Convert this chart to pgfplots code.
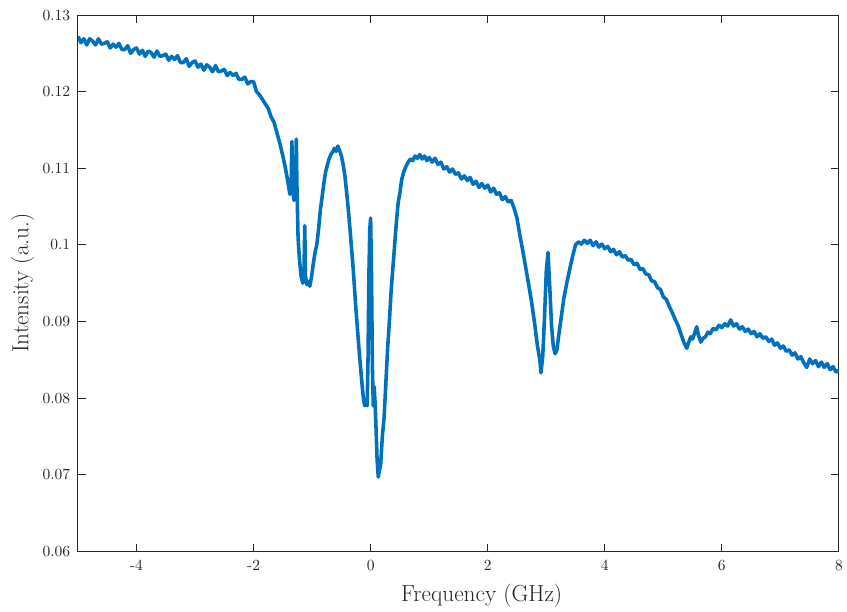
\documentclass[border=0pt]{standalone}
\usepackage{pgfplots}
\pgfplotsset{compat=1.18}
\definecolor{mblue}{HTML}{0072BD}
\definecolor{axgray}{HTML}{262626}

\pgfplotstableread{
f I
-5.00 0.1272
-4.95 0.1264
-4.90 0.1269
-4.85 0.1261
-4.80 0.1269
-4.75 0.1266
-4.70 0.1261
-4.65 0.1269
-4.60 0.1262
-4.55 0.1263
-4.50 0.1265
-4.45 0.1257
-4.40 0.1262
-4.35 0.1258
-4.30 0.1263
-4.25 0.1255
-4.20 0.1255
-4.15 0.1260
-4.10 0.1250
-4.05 0.1255
-4.00 0.1257
-3.95 0.1249
-3.90 0.1254
-3.85 0.1246
-3.80 0.1253
-3.75 0.1251
-3.70 0.1245
-3.65 0.1253
-3.60 0.1246
-3.55 0.1247
-3.50 0.1249
-3.45 0.1241
-3.40 0.1246
-3.35 0.1242
-3.30 0.1247
-3.25 0.1238
-3.20 0.1238
-3.15 0.1243
-3.10 0.1233
-3.05 0.1238
-3.00 0.1240
-2.95 0.1232
-2.90 0.1236
-2.85 0.1228
-2.80 0.1235
-2.75 0.1232
-2.70 0.1226
-2.65 0.1234
-2.60 0.1226
-2.55 0.1227
-2.50 0.1229
-2.45 0.1221
-2.40 0.1225
-2.35 0.1221
-2.30 0.1224
-2.25 0.1216
-2.20 0.1216
-2.15 0.1219
-2.10 0.1210
-2.05 0.1213
-2.00 0.1213
-1.95 0.1200
-1.90 0.1196
-1.85 0.1190
-1.80 0.1184
-1.75 0.1178
-1.70 0.1167
-1.65 0.1160
-1.60 0.1146
-1.55 0.1132
-1.50 0.1116
-1.46 0.1102
-1.42 0.1085
-1.38 0.1066
-1.36 0.1070
-1.345 0.1135
-1.335 0.1075
-1.31 0.1058
-1.285 0.1070
-1.27 0.1138
-1.26 0.1080
-1.24 0.1010
-1.22 0.0985
-1.19 0.0960
-1.16 0.0950
-1.14 0.0960
-1.125 0.1025
-1.115 0.0960
-1.09 0.0948
-1.06 0.0952
-1.04 0.0946
-1.01 0.0958
-0.98 0.0975
-0.95 0.0990
-0.92 0.1000
-0.89 0.1020
-0.86 0.1045
-0.83 0.1062
-0.80 0.1080
-0.77 0.1095
-0.74 0.1104
-0.71 0.1112
-0.68 0.1118
-0.65 0.1121
-0.62 0.1126
-0.59 0.1122
-0.56 0.1129
-0.53 0.1123
-0.50 0.1116
-0.47 0.1105
-0.44 0.1090
-0.41 0.1068
-0.38 0.1045
-0.35 0.1018
-0.32 0.0990
-0.29 0.0960
-0.26 0.0925
-0.23 0.0895
-0.20 0.0865
-0.17 0.0838
-0.14 0.0812
-0.12 0.0797
-0.10 0.0790
-0.08 0.0793
-0.06 0.0790
-0.045 0.0850
-0.03 0.0960
-0.015 0.1020
0.00 0.1035
0.015 0.0960
0.03 0.0840
0.045 0.0790
0.06 0.0815
0.075 0.0795
0.09 0.0765
0.11 0.0720
0.13 0.0697
0.15 0.0706
0.17 0.0712
0.20 0.0750
0.23 0.0775
0.26 0.0820
0.29 0.0865
0.32 0.0900
0.35 0.0940
0.38 0.0970
0.41 0.1000
0.44 0.1030
0.47 0.1055
0.50 0.1068
0.53 0.1085
0.56 0.1094
0.60 0.1102
0.64 0.1108
0.68 0.1112
0.72 0.1110
0.76 0.1116
0.80 0.1113
0.84 0.1118
0.88 0.1112
0.92 0.1116
0.96 0.1110
1.00 0.1114
1.05 0.1108
1.10 0.1113
1.15 0.1105
1.20 0.1108
1.25 0.1099
1.30 0.1102
1.35 0.1095
1.40 0.1099
1.45 0.1092
1.50 0.1094
1.55 0.1086
1.60 0.1090
1.65 0.1084
1.70 0.1088
1.75 0.1079
1.80 0.1083
1.85 0.1075
1.90 0.1080
1.95 0.1074
2.00 0.1078
2.05 0.1069
2.10 0.1074
2.15 0.1066
2.20 0.1068
2.25 0.1059
2.30 0.1063
2.35 0.1056
2.40 0.1058
2.45 0.1048
2.50 0.1035
2.55 0.1012
2.60 0.0992
2.65 0.0970
2.70 0.0948
2.75 0.0925
2.80 0.0898
2.85 0.0868
2.89 0.0850
2.91 0.0833
2.94 0.0855
2.97 0.0905
3.00 0.0965
3.03 0.0990
3.06 0.0945
3.09 0.0895
3.12 0.0868
3.15 0.0858
3.18 0.0862
3.21 0.0880
3.25 0.0902
3.30 0.0930
3.35 0.0950
3.40 0.0968
3.45 0.0985
3.50 0.1000
3.55 0.1004
3.60 0.1001
3.65 0.1006
3.70 0.1002
3.75 0.1006
3.80 0.0999
3.85 0.1004
3.90 0.0997
3.95 0.1001
4.00 0.0995
4.05 0.0998
4.10 0.0991
4.15 0.0994
4.20 0.0987
4.25 0.0991
4.30 0.0984
4.35 0.0986
4.40 0.0980
4.45 0.0981
4.50 0.0974
4.55 0.0976
4.60 0.0968
4.65 0.0969
4.70 0.0962
4.75 0.0961
4.80 0.0953
4.85 0.0952
4.90 0.0944
4.95 0.0942
5.00 0.0932
5.05 0.0929
5.10 0.0920
5.15 0.0912
5.20 0.0903
5.25 0.0895
5.30 0.0884
5.35 0.0873
5.40 0.0865
5.43 0.0872
5.47 0.0880
5.50 0.0877
5.54 0.0886
5.57 0.0893
5.60 0.0882
5.64 0.0873
5.68 0.0878
5.72 0.0880
5.76 0.0886
5.80 0.0884
5.85 0.0891
5.90 0.0889
5.95 0.0895
6.00 0.0892
6.05 0.0897
6.10 0.0894
6.15 0.0902
6.20 0.0894
6.25 0.0897
6.30 0.0890
6.35 0.0893
6.40 0.0887
6.45 0.0890
6.50 0.0884
6.55 0.0887
6.60 0.0880
6.65 0.0884
6.70 0.0878
6.75 0.0880
6.80 0.0874
6.85 0.0877
6.90 0.0869
6.95 0.0872
7.00 0.0865
7.05 0.0868
7.10 0.0861
7.15 0.0863
7.20 0.0856
7.25 0.0859
7.30 0.0851
7.35 0.0854
7.40 0.0846
7.45 0.0840
7.50 0.0851
7.55 0.0845
7.60 0.0849
7.65 0.0841
7.70 0.0847
7.75 0.0840
7.80 0.0845
7.85 0.0837
7.90 0.0841
7.95 0.0834
8.00 0.0836
}\spectrum

\begin{document}
\begin{tikzpicture}
\begin{axis}[
  width=491pt, height=346pt,
  scale only axis,
  xmin=-5, xmax=8,
  ymin=0.06, ymax=0.13,
  xtick={-4,-2,0,2,4,6,8},
  xticklabels={{-4},{-2},{0},{2},{4},{6},{8}},
  ytick={0.06,0.07,0.08,0.09,0.1,0.11,0.12,0.13},
  yticklabels={{0.06},{0.07},{0.08},{0.09},{0.1},{0.11},{0.12},{0.13}},
  tick align=inside,
  major tick length=5pt,
  axis line style={axgray, line width=0.6pt},
  every tick/.style={axgray, line width=0.6pt},
  tick label style={font=\fontsize{10}{12}\selectfont, text=axgray},
  xticklabel style={yshift=-2pt},
  yticklabel style={xshift=-1.5pt},
  xlabel={Frequency (GHz)},
  ylabel={Intensity (a.u.)},
  label style={font=\fontsize{15}{18}\selectfont, text=axgray},
  xlabel style={xshift=15pt, yshift=-2pt},
  ylabel style={yshift=-1.5pt},
]
\addplot[mblue, line width=2.3pt, line join=round] table[x=f, y=I] {\spectrum};
\coordinate (SW) at (rel axis cs:0,0);
\coordinate (NE) at (rel axis cs:1,1);
\end{axis}
\pgfresetboundingbox
\useasboundingbox ([xshift=-50.3pt,yshift=-38.7pt]SW) rectangle ([xshift=5.2pt,yshift=9.7pt]NE);
\end{tikzpicture}
\end{document}
